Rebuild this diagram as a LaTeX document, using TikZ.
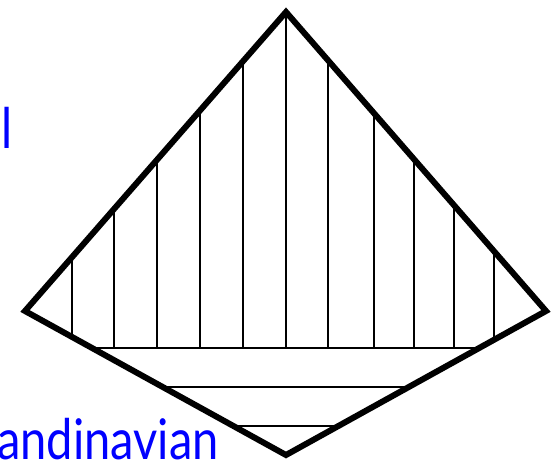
\documentclass[tikz,border=0pt]{standalone}
\usepackage{fontspec}
\setmainfont{Lato}
\usetikzlibrary{calc}
\definecolor{labelblue}{RGB}{0,0,255}

\begin{document}
\begin{tikzpicture}[
  x=1pt, y=-1pt,
  frame/.style={line width=6pt, line join=miter},
  rule/.style={line width=2pt},
  lbl/.style={text=labelblue, font=\fontsize{56}{56}\selectfont,
              inner sep=0pt, anchor=base east, xscale=0.84}
]
\useasboundingbox (0,0) rectangle (552,461);
\clip (0,0) rectangle (552,461);
\coordinate (top) at (286,12);
\coordinate (left) at (25,311);
\coordinate (right) at (546,311);
\coordinate (bot) at (286,455);
% vertical rules, kept inside the diamond
\begin{scope}
  \clip (top) -- (right) -- (bot) -- (left) -- cycle;
  \foreach \x in {72,114,157,200,243,286,328,374,414,454,494}
    \draw[rule] (\x,0) -- (\x,348);
\end{scope}
% horizontal rules
\foreach \t/\n in {0.257/a,0.528/b,0.799/c} {
  \coordinate (\n l) at ($(left)!\t!(bot)$);
  \coordinate (\n r) at ($(right)!\t!(bot)$);
  \draw[rule] (\n l) -- (\n r);
}
\draw[frame] (top) -- (right) -- (bot) -- (left) -- cycle;
\node[lbl] (upper) at (13,148) {al};
\node[lbl] (scand) at (219,459) {Scandinavian};
\end{tikzpicture}
\end{document}
